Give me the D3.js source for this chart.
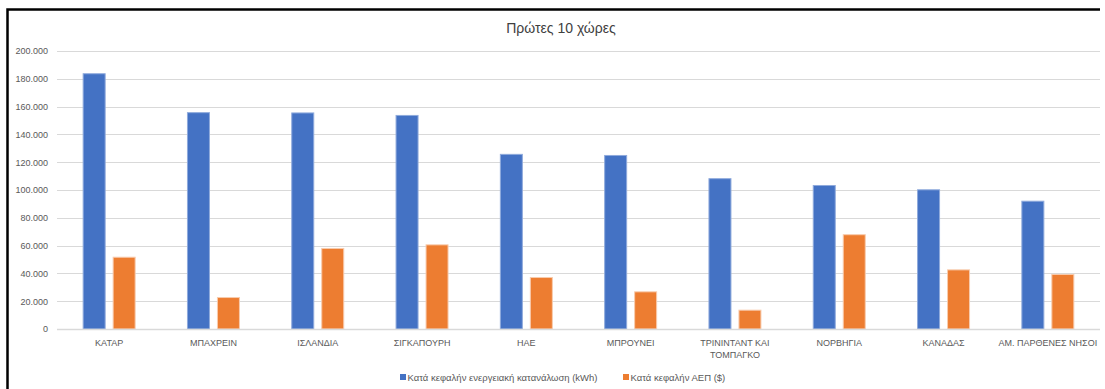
<!DOCTYPE html>
<html>
<head>
<meta charset="utf-8">
<script src="https://cdn.jsdelivr.net/npm/d3@7"></script>
<style>
  html, body { margin: 0; padding: 0; background: #fff; }
  svg { display: block; font-family: "Liberation Sans", Arial, sans-serif; }
</style>
</head>
<body>
<svg id="chart" width="1105" height="389"></svg>
<script>
// Top-10 countries: per-capita energy use (kWh) and per-capita GDP ($)
const countries = [
  "ΚΑΤΑΡ", "ΜΠΑΧΡΕΙΝ", "ΙΣΛΑΝΔΙΑ", "ΣΙΓΚΑΠΟΥΡΗ", "ΗΑΕ",
  "ΜΠΡΟΥΝΕΙ", "ΤΡΙΝΙΝΤΑΝΤ ΚΑΙ\nΤΟΜΠΑΓΚΟ", "ΝΟΡΒΗΓΙΑ", "ΚΑΝΑΔΑΣ", "ΑΜ. ΠΑΡΘΕΝΕΣ ΝΗΣΟΙ"
];
const energyKWh = [184000, 156000, 155800, 154000, 126000, 125200, 108500, 103600, 100500, 92300];
const gdpUSD    = [52000, 23000, 58300, 60900, 37400, 27100, 13900, 68200, 42900, 39600];
const yTicks = [0, 20000, 40000, 60000, 80000, 100000, 120000, 140000, 160000, 180000, 200000];
const seriesNames = ["Κατά κεφαλήν ενεργειακή κατανάλωση (kWh)", "Κατά κεφαλήν ΑΕΠ ($)"];
const seriesColors = ["#4472C4", "#ED7D31"];
const seriesStroke = ["#8FAADC", "#F8CBAD"];
const title = "Πρώτες 10 χώρες";

const svg = d3.select("#chart");
const plotLeft = 57, plotRight = 1100, plotTop = 51, plotBottom = 329;

// frame edges (top and left)
svg.append("path")
  .attr("d", "M7.5,400 V9.5 H1100")
  .attr("fill", "none").attr("stroke", "#000").attr("stroke-width", 2.5);

const y = d3.scaleLinear().domain([0, 200000]).range([plotBottom, plotTop]);
const x0 = d3.scaleBand().domain(countries).range([plotLeft, plotRight])
  .paddingInner(0.492).paddingOuter(0.246);
const x1 = d3.scaleBand().domain([0, 1]).range([0, x0.bandwidth()])
  .paddingInner(0.2333).paddingOuter(0);

// gridlines
svg.append("g").selectAll("line").data(yTicks).join("line")
  .attr("x1", plotLeft).attr("x2", plotRight)
  .attr("y1", d => Math.round(y(d)) + 0.5).attr("y2", d => Math.round(y(d)) + 0.5)
  .attr("stroke", "#d9d9d9").attr("stroke-width", 1);

// y-axis labels
const fmt = d => d === 0 ? "0" : d3.format(",")(d).replace(/,/g, ".");
const yAxis = d3.axisLeft(y).tickValues(yTicks).tickFormat(fmt).tickSize(0).tickPadding(0);
const gy = svg.append("g").attr("transform", "translate(48,0)").call(yAxis);
gy.select(".domain").remove();
gy.selectAll("text").attr("fill", "#595959").attr("font-size", 9)
  .attr("font-family", "Liberation Sans, Arial, sans-serif");

// bars
const data = countries.map((c, i) => ({ c, vals: [energyKWh[i], gdpUSD[i]] }));
const groups = svg.append("g").selectAll("g").data(data).join("g")
  .attr("transform", d => `translate(${x0(d.c)},0)`);
groups.selectAll("rect").data(d => d.vals.map((v, k) => ({ v, k }))).join("rect")
  .attr("x", d => x1(d.k) + 0.5)
  .attr("width", x1.bandwidth() - 1)
  .attr("y", d => y(d.v) + 0.5)
  .attr("height", d => y(0) - y(d.v) - 0.5)
  .attr("fill", d => seriesColors[d.k])
  .attr("stroke", d => seriesStroke[d.k]).attr("stroke-width", 1);

// baseline
svg.append("line").attr("x1", plotLeft).attr("x2", plotRight)
  .attr("y1", plotBottom + 0.5).attr("y2", plotBottom + 0.5)
  .attr("stroke", "#d9d9d9").attr("stroke-width", 1.5);

// x labels
const xl = svg.append("g").selectAll("text").data(countries).join("text")
  .attr("x", d => x0(d) + x0.bandwidth() / 2)
  .attr("y", 346)
  .attr("text-anchor", "middle")
  .attr("font-size", 9).attr("fill", "#595959");
xl.each(function(d) {
  const lines = d.split("\n");
  d3.select(this).selectAll("tspan").data(lines).join("tspan")
    .attr("x", x0(d) + x0.bandwidth() / 2)
    .attr("dy", (l, i) => i === 0 ? 0 : 11.5)
    .text(l => l);
});

// title
svg.append("text").attr("x", 561).attr("y", 33).attr("text-anchor", "middle")
  .attr("font-size", 14).attr("fill", "#404040").text(title);

// legend
const legendX = [400, 623];
const lg = svg.append("g").selectAll("g").data(seriesNames).join("g")
  .attr("transform", (d, i) => `translate(${legendX[i]},374)`);
lg.append("rect").attr("width", 6).attr("height", 6).attr("fill", (d, i) => seriesColors[i]);
lg.append("text").attr("x", 7.5).attr("y", 6.5).attr("font-size", 9.5).attr("fill", "#595959")
  .text(d => d);
</script>
</body>
</html>
